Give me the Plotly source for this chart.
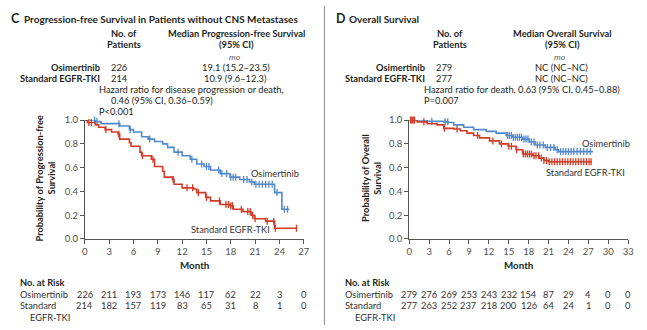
import plotly.graph_objects as go

W, H = 647, 330

# ---------------- data ----------------
pfs_months = [0, 3, 6, 9, 12, 15, 18, 21, 24, 27]
os_months = [0, 3, 6, 9, 12, 15, 18, 21, 24, 27, 30, 33]

# Progression-free survival, patients without CNS metastases (step points)
pfs_osi_t = [0, 1.3, 2.0, 4.3, 5.5, 6.0, 7.0, 7.8, 8.6, 9.6, 10.2, 11.0, 12.0, 13.0,
             13.8, 14.7, 15.5, 16.7, 17.9, 19.1, 20.3, 20.9, 23.4, 24.3, 25.2]
pfs_osi_s = [1.0, 0.987, 0.97, 0.95, 0.92, 0.90, 0.86, 0.84, 0.82, 0.80, 0.77, 0.73, 0.70, 0.67,
             0.63, 0.61, 0.58, 0.55, 0.52, 0.50, 0.48, 0.46, 0.39, 0.25, 0.25]
pfs_osi_cens = [1.2, 1.5, 4.2, 5.6, 8.0, 11.5, 13.2, 14.4, 15.0, 15.3, 16.5, 16.9, 17.5, 18.0,
                18.3, 18.6, 19.6, 20.0, 20.6, 21.1, 21.5, 21.9, 22.3, 22.7, 23.1, 23.7, 24.6, 25.0]

pfs_std_t = [0, 0.3, 1.3, 1.7, 2.5, 3.3, 4.1, 4.3, 5.5, 5.7, 6.8, 7.0, 8.2, 8.6, 9.6, 9.8,
             10.8, 11.0, 12.0, 13.4, 13.8, 14.9, 15.5, 16.7, 17.9, 18.3, 19.5, 20.5, 20.9,
             22.3, 23.4, 26.2]
pfs_std_s = [1.0, 0.98, 0.96, 0.94, 0.92, 0.90, 0.88, 0.84, 0.81, 0.78, 0.73, 0.70, 0.67, 0.61,
             0.57, 0.52, 0.50, 0.46, 0.43, 0.42, 0.39, 0.35, 0.32, 0.29, 0.28, 0.25, 0.23,
             0.20, 0.17, 0.15, 0.09, 0.09]
pfs_std_cens = [0.5, 0.8, 2.6, 4.2, 7.1, 8.4, 10.9, 12.6, 13.3, 14.0, 15.0, 16.6, 17.4, 17.7,
                18.0, 18.2, 19.3, 20.1, 20.4, 20.7, 21.0, 22.5, 23.3, 23.5, 26.1]

# Overall survival (step points)
os_osi_t = [0, 2.7, 5.2, 5.9, 6.7, 8.2, 9.7, 11.6, 13.1, 14.6, 15.6, 17.1, 18.1, 19.0,
            20.5, 22.0, 22.5, 27.7]
os_osi_s = [1.0, 0.99, 0.985, 0.98, 0.96, 0.94, 0.92, 0.905, 0.89, 0.87, 0.855, 0.84, 0.815,
            0.79, 0.77, 0.75, 0.735, 0.735]
os_osi_cens = [0.3, 0.6, 3.4, 5.4, 5.8, 14.8, 15.1, 15.4, 15.7, 16.0, 16.3, 16.6, 16.9, 17.3,
               17.6, 17.9, 18.4, 18.8, 19.3, 19.7, 20.2, 20.8, 21.3, 21.8, 22.3, 22.8, 23.2,
               23.6, 24.0, 24.4, 24.8, 25.3, 25.8, 26.3, 26.8, 27.3]

os_std_t = [0, 1.2, 2.7, 4.2, 5.2, 6.7, 7.7, 8.7, 9.7, 10.6, 12.1, 13.6, 14.9, 16.1, 17.1,
            18.6, 19.6, 20.3, 21.0, 27.5]
os_std_s = [1.0, 0.985, 0.97, 0.96, 0.93, 0.925, 0.91, 0.89, 0.87, 0.85, 0.825, 0.80, 0.78,
            0.75, 0.715, 0.70, 0.68, 0.66, 0.65, 0.65]
os_std_cens = [0.2, 0.5, 0.8, 2.2, 5.3, 7.2, 10.3, 12.6, 13.9, 15.0, 15.4, 16.2, 17.2, 17.5,
               17.8, 18.1, 18.4, 18.8, 19.1, 19.5, 19.9, 20.3, 20.7, 21.1, 21.5, 21.9, 22.3,
               22.7, 23.1, 23.5, 23.9, 24.3, 24.7, 25.1, 25.5, 25.9, 26.3, 26.7, 27.1, 27.4]

pfs_risk_osi = [226, 211, 193, 173, 146, 117, 62, 22, 3, 0]
pfs_risk_std = [214, 182, 157, 119, 83, 65, 31, 8, 1, 0]
os_risk_osi = [279, 276, 269, 253, 243, 232, 154, 87, 29, 4, 0, 0]
os_risk_std = [277, 263, 252, 237, 218, 200, 126, 64, 24, 1, 0, 0]

BLUE = "#5289cc"
RED = "#d23c26"
TXT = "#231f20"
AX = "#555555"
FONT = "Lato"
FS = 9.3      # regular text
FB = 9.3      # bold text


def px(x):
    return x / W


def py(y):
    return 1 - y / H


def step_value(ts, ss, t):
    val = ss[0]
    for a, b in zip(ts, ss):
        if a <= t:
            val = b
    return val


fig = go.Figure()


def add_km(ts, ss, cens, color, xa, ya):
    fig.add_trace(go.Scatter(x=ts, y=ss, mode="lines", line=dict(color=color, width=1.6, shape="hv"),
                             xaxis=xa, yaxis=ya, showlegend=False, hoverinfo="skip",
                             cliponaxis=False))
    fig.add_trace(go.Scatter(x=cens, y=[step_value(ts, ss, c) for c in cens], mode="markers",
                             marker=dict(symbol="line-ns", size=5, line=dict(color=color, width=1.3)),
                             xaxis=xa, yaxis=ya, showlegend=False, hoverinfo="skip",
                             cliponaxis=False))


add_km(pfs_osi_t, pfs_osi_s, pfs_osi_cens, BLUE, "x", "y")
add_km(pfs_std_t, pfs_std_s, pfs_std_cens, RED, "x", "y")
add_km(os_osi_t, os_osi_s, os_osi_cens, BLUE, "x2", "y2")
add_km(os_std_t, os_std_s, os_std_cens, RED, "x2", "y2")

ydom = [py(241), py(118)]
axis_common = dict(showgrid=False, zeroline=False, showline=True, linecolor=AX, linewidth=1,
                   ticks="outside", ticklen=4, tickcolor=AX, tickwidth=1,
                   tickfont=dict(family=FONT, size=9.5, color="#505050"))

fig.update_layout(
    width=W, height=H, margin=dict(l=0, r=0, t=0, b=0),
    paper_bgcolor="white", plot_bgcolor="white",
    xaxis=dict(domain=[px(83), px(305)], range=[0, 27], tickvals=pfs_months, anchor="y", **axis_common),
    yaxis=dict(domain=ydom, range=[0, 1.0], tickvals=[0, 0.2, 0.4, 0.6, 0.8, 1.0],
               tickformat=".1f", anchor="x", **axis_common),
    xaxis2=dict(domain=[px(412), px(634)], range=[0, 33], tickvals=os_months, anchor="y2", **axis_common),
    yaxis2=dict(domain=ydom, range=[0, 1.0], tickvals=[0, 0.2, 0.4, 0.6, 0.8, 1.0],
                tickformat=".1f", anchor="x2", **axis_common),
)

ann = []


def text(x, y, s, size=FS, bold=False, anchor="left", color=TXT, italic=False, angle=0):
    if bold:
        s = f"<b>{s}</b>"
    if italic:
        s = f"<i>{s}</i>"
    ann.append(dict(x=px(x), y=py(y), xref="paper", yref="paper", text=s, showarrow=False,
                    xanchor=anchor, yanchor="middle", textangle=angle,
                    font=dict(family=FONT, size=size, color=color)))


def panel_header(x0, letter, title, median_title, osi_n, std_n, osi_med, std_med, hr_lines, p_text):
    text(x0 + 6, 13, letter, size=12.5, bold=True)
    text(x0 + 19, 13, title, size=10, bold=True)
    text(x0 + 123, 28, "No. of", size=FB, bold=True, anchor="center")
    text(x0 + 123, 40, "Patients", size=FB, bold=True, anchor="center")
    text(x0 + 237, 28, median_title, size=FB, bold=True, anchor="center")
    text(x0 + 237, 40, "(95% CI)", size=FB, bold=True, anchor="center")
    text(x0 + 235, 53, "mo", size=8.5, italic=True, anchor="center", color="#555555")
    text(x0 + 100, 64, "Osimertinib", size=FB, bold=True, anchor="right")
    text(x0 + 100, 75, "Standard EGFR-TKI", size=FB, bold=True, anchor="right")
    text(x0 + 107, 64, osi_n)
    text(x0 + 107, 75, std_n)
    text(x0 + 236, 64, osi_med, anchor="center")
    text(x0 + 236, 75, std_med, anchor="center")
    yy = 86.5
    for line, indent in hr_lines:
        text(x0 + 95 + indent, yy, line)
        yy += 11.5
    text(x0 + 95, yy, p_text)


panel_header(0, "C", "Progression-free Survival in Patients without CNS Metastases",
             "Median Progression-free Survival", str(pfs_risk_osi[0]), str(pfs_risk_std[0]),
             "19.1 (15.2–23.5)", "10.9 (9.6–12.3)",
             [("Hazard ratio for disease progression or death,", 0), ("0.46 (95% CI, 0.36–0.59)", 13)],
             "P&lt;0.001")
panel_header(330, "D", "Overall Survival", "Median Overall Survival",
             str(os_risk_osi[0]), str(os_risk_std[0]), "NC (NC–NC)", "NC (NC–NC)",
             [("Hazard ratio for death, 0.63 (95% CI, 0.45–0.88)", 0)], "P=0.007")

# y-axis titles
text(37, 178, "Probability of Progression-free", size=FB, bold=True, anchor="center", angle=-90)
text(49, 178, "Survival", size=FB, bold=True, anchor="center", angle=-90)
text(367, 178, "Probability of Overall", size=FB, bold=True, anchor="center", angle=-90)
text(379, 178, "Survival", size=FB, bold=True, anchor="center", angle=-90)

# x-axis titles
text(194, 268, "Month", size=9.8, bold=True, anchor="center")
text(523, 268, "Month", size=9.8, bold=True, anchor="center")

# curve labels (data coordinates)
for xa, ya, xv, yv, s in [("x", "y", 23.5, 0.55, "Osimertinib"),
                          ("x", "y", 18.0, 0.08, "Standard EGFR-TKI"),
                          ("x2", "y2", 29.6, 0.805, "Osimertinib"),
                          ("x2", "y2", 26.5, 0.56, "Standard EGFR-TKI")]:
    ann.append(dict(x=xv, y=yv, xref=xa, yref=ya, text=s, showarrow=False, xanchor="center",
                    yanchor="middle", font=dict(family=FONT, size=FS, color="#333333")))

# numbers at risk
for x0, months, rows, axis in [(0, pfs_months, (pfs_risk_osi, pfs_risk_std), "x"),
                               (330, os_months, (os_risk_osi, os_risk_std), "x2")]:
    text(x0 + 15, 286, "No. at Risk", size=FB, bold=True)
    text(x0 + 15, 298, "Osimertinib", color="#333333")
    text(x0 + 15, 310, "Standard", color="#333333")
    text(x0 + 25, 322, "EGFR-TKI", color="#333333")
    for vals, yy in zip(rows, (298, 310)):
        for m, v in zip(months, vals):
            ann.append(dict(x=m, y=py(yy), xref=axis, yref="paper", text=str(v), showarrow=False,
                            xanchor="center", yanchor="middle",
                            font=dict(family=FONT, size=FS, color="#333333")))

fig.update_layout(annotations=ann)

# panel divider
fig.add_shape(type="line", xref="paper", yref="paper", x0=px(326), x1=px(326), y0=0, y1=1,
              line=dict(color="#9a9a9a", width=1.2))

fig.write_html("out.html")
